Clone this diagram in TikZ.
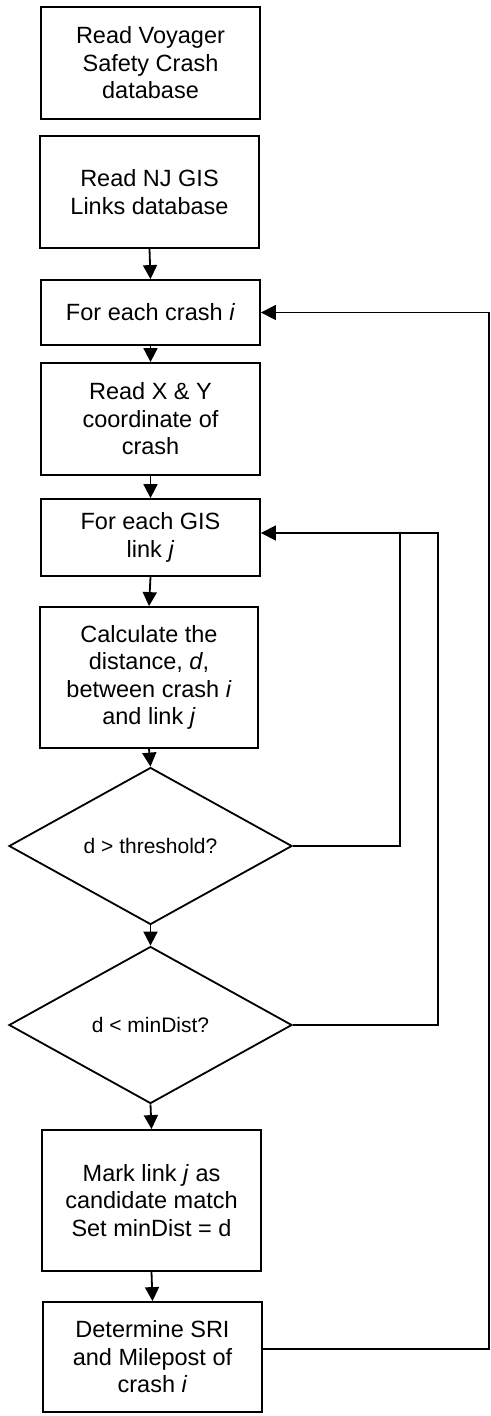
\documentclass[tikz,border=0pt]{standalone}
\usepackage{fontspec}
\setmainfont{Liberation Sans}
\usetikzlibrary{shapes.geometric,arrows.meta}
\begin{document}
\begin{tikzpicture}[x=1pt,y=-1pt,
  box/.style={draw,line width=1.8pt,rectangle,minimum width=219pt,inner sep=0pt,align=center,
    font=\fontsize{23.5}{27.5}\selectfont},
  dia/.style={draw,line width=1.8pt,diamond,minimum width=283pt,minimum height=157pt,inner sep=0pt,
    font=\fontsize{21}{25}\selectfont},
  arr/.style={line width=1.8pt,-{Triangle[length=14pt,width=14pt]}},
  loopline/.style={line width=1.3pt},
  looparr/.style={line width=1.3pt,-{Triangle[length=15pt,width=15pt]}}]
\useasboundingbox (0,0) rectangle (490,1416);
\node[box,minimum height=112pt] (b1) at (150.5,63) {Read Voyager\\Safety Crash\\database};
\node[box,minimum height=112pt] (b2) at (149.5,192) {Read NJ GIS\\Links database};
\node[box,minimum height=65pt] (b3) at (150.5,312.5) {For each crash \textit{i}};
\node[box,minimum height=112pt] (b4) at (150.5,419) {Read X \& Y\\coordinate of\\crash};
\node[box,minimum height=77pt] (b5) at (150.5,537.5) {For each GIS\\link \textit{j}};
\node[box,minimum height=141pt,minimum width=218pt] (b6) at (149,677.5) {Calculate the\\distance, \textit{d},\\between crash \textit{i}\\and link \textit{j}};
\node[dia] (d1) at (150.5,846) {d > threshold?};
\node[dia] (d2) at (150.5,1025) {d < minDist?};
\node[box,minimum height=141pt] (b7) at (151.5,1200.5) {Mark link \textit{j} as\\candidate match\\Set minDist = d};
\node[box,minimum height=110pt] (b8) at (152.5,1357) {Determine SRI\\and Milepost of\\crash \textit{i}};
\draw[arr] (b2.south) -- (b3.north);
\draw[arr] (b3.south) -- (b4.north);
\draw[arr] (b4.south) -- (b5.north);
\draw[arr] (b5.south) -- (b6.north);
\draw[arr] (b6.south) -- (d1.north);
\draw[arr] (d1.south) -- (d2.north);
\draw[arr] (d2.south) -- (b7.north);
\draw[arr] (b7.south) -- (b8.north);
\coordinate (r1) at (400,533);
\coordinate (r2) at (438,533);
\coordinate (r3) at (489,312.5);
\draw[loopline] (d1.east) -| (r1);
\draw[looparr] (d2.east) -| (r2) -- (r2 -| b5.east);
\draw[looparr] ([yshift=8pt]b8.east) -| (r3) -- (b3.east);
\end{tikzpicture}
\end{document}
